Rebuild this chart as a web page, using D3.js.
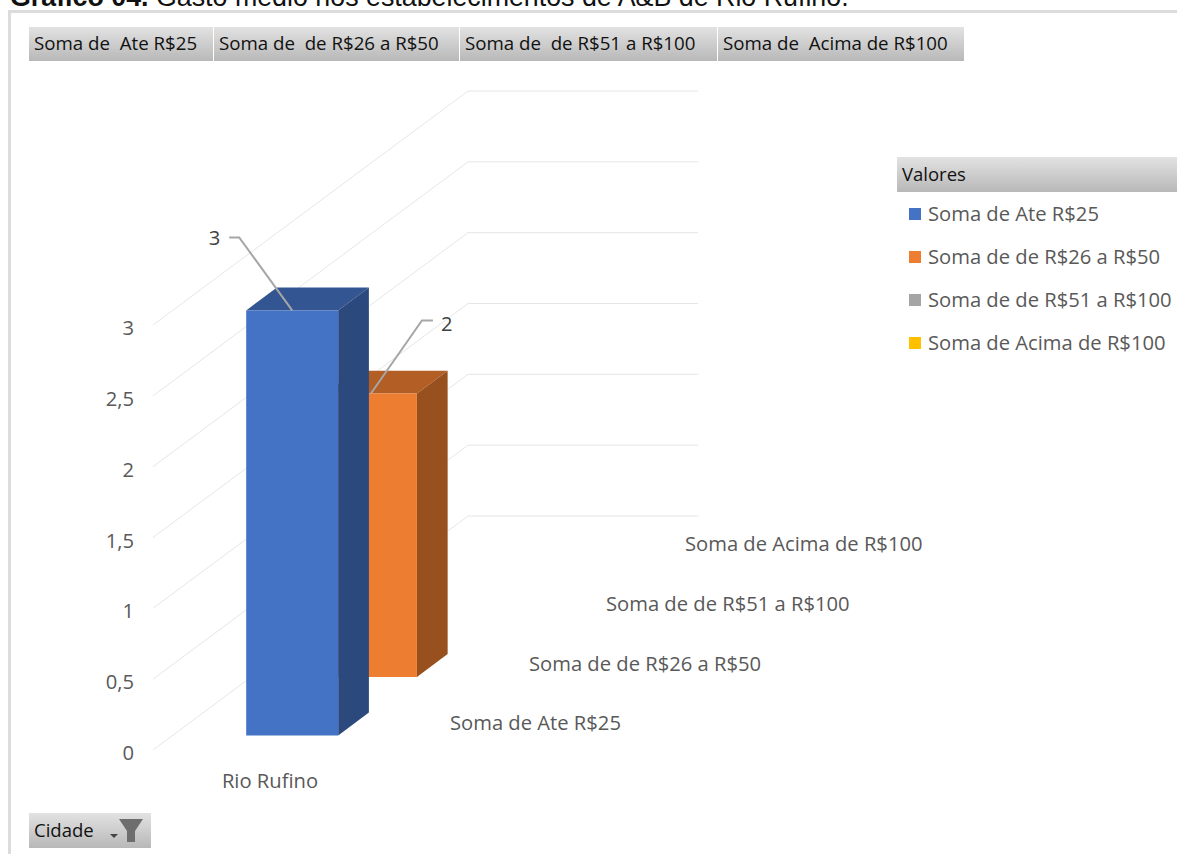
<!DOCTYPE html>
<html>
<head>
<meta charset="utf-8">
<script src="https://cdn.jsdelivr.net/npm/d3@7"></script>
<style>
  html, body { margin: 0; padding: 0; background: #fff; overflow: hidden; }
  text { font-family: "Open Sans", sans-serif; }
</style>
</head>
<body>
<svg id="chart" width="1177" height="854"></svg>
<script>
var cities = ['Rio Rufino'];
var series_names = ['Soma de Ate R$25', 'Soma de de R$26 a R$50', 'Soma de de R$51 a R$100', 'Soma de Acima de R$100'];
var series_values = [3, 2, 0, 0];
var series_colors = ['#4472c4', '#ed7d31', '#a5a5a5', '#ffc000'];
var y_ticks = [0, 0.5, 1, 1.5, 2, 2.5, 3];
var y_max_grid = 3;
var header_labels = ['Soma de  Ate R$25', 'Soma de  de R$26 a R$50', 'Soma de  de R$51 a R$100', 'Soma de  Acima de R$100'];
var header_edges = [29, 214, 460, 718, 965];
var title_bold = 'Gráfico 04.';
var title_rest = ' Gasto médio nos estabelecimentos de A&B de Rio Rufino.';

var svg = d3.select('#chart');
var defs = svg.append('defs');
var grad = defs.append('linearGradient').attr('id', 'btn').attr('x1', 0).attr('y1', 0).attr('x2', 0).attr('y2', 1);
grad.append('stop').attr('offset', '0%').attr('stop-color', '#e2e2e2');
grad.append('stop').attr('offset', '100%').attr('stop-color', '#b8b8b8');

// 3d frame: floor goes back and up from the front corner
var origin_x = 153, origin_y = 750;
var y = d3.scaleLinear().domain([0, y_max_grid]).range([0, -425]);
var depth_x = d3.scaleLinear().domain([0, series_names.length]).range([0, 315]);
var depth_y = d3.scaleLinear().domain([0, series_names.length]).range([0, -234]);
var x = d3.scaleBand().domain(cities).range([0, 230]).padding(0.4286);
var px = (c, d) => origin_x + depth_x(d) + c;
var py = (v, d) => origin_y + depth_y(d) + y(v);
var shade = function(col, k) {
	var c = d3.rgb(col);
	return d3.rgb(c.r * k, c.g * k, c.b * k);
};

// title and outer frame
var title = svg.append('text').attr('x', 10).attr('y', 6).attr('font-size', 26.8).attr('fill', '#111')
	.style('font-family', '"Liberation Sans", Arial, sans-serif');
title.append('tspan').attr('font-weight', 'bold').text(title_bold);
title.append('tspan').text(title_rest);
svg.append('path').attr('d', 'M9.5,854V11.5H1177').attr('fill', 'none').attr('stroke', '#dcdcdc').attr('stroke-width', 3);

// gridlines
y_ticks.forEach(function(t) {
	var w = x.range()[1];
	svg.append('path')
		.attr('d', d3.line()([[px(0, 0), py(t, 0)], [px(0, series_names.length), py(t, series_names.length)], [px(w, series_names.length), py(t, series_names.length)]]))
		.attr('fill', 'none').attr('stroke', '#e6e6e6').attr('stroke-width', 1);
});

// y axis labels
svg.selectAll('.ytick').data(y_ticks).enter().append('text')
	.attr('x', 134).attr('y', d => py(d, 0) + 10)
	.attr('text-anchor', 'end').attr('font-size', 20.2).attr('fill', '#595959')
	.text(d => String(d).replace('.', ','));

// bars, drawn back to front
var bar_depth = 0.39, bar_start = 0.25, nudge = 4.5;
d3.range(series_names.length - 1, -1, -1).forEach(function(i) {
	var v = series_values[i];
	if (v <= 0) return;
	cities.forEach(function(c) {
		var x0 = x(c) + nudge, x1 = x0 + x.bandwidth();
		var d0 = i + bar_start, d1 = d0 + bar_depth;
		var poly = function(pts, col) {
			svg.append('path').attr('d', d3.line()(pts) + 'Z').attr('fill', col);
		};
		poly([[px(x0, d0), py(v, d0)], [px(x1, d0), py(v, d0)], [px(x1, d1), py(v, d1)], [px(x0, d1), py(v, d1)]], shade(series_colors[i], 0.75));
		poly([[px(x1, d0), py(0, d0)], [px(x1, d1), py(0, d1)], [px(x1, d1), py(v, d1)], [px(x1, d0), py(v, d0)]], shade(series_colors[i], 0.64));
		poly([[px(x0, d0), py(0, d0)], [px(x1, d0), py(0, d0)], [px(x1, d0), py(v, d0)], [px(x0, d0), py(v, d0)]], series_colors[i]);
	});
});

// data labels with leader lines
var leader_dx = [[-53, -73], [51, -73]];
var leader_tail = [-10, 11];
var label_gap = [-9, 8];
var label_dy = [8, 10];
[0, 1].forEach(function(i) {
	var d0 = i + bar_start;
	var c = i == 0 ? x(cities[0]) + nudge + x.bandwidth() / 2 : x(cities[0]) + nudge + 46;
	var ax = px(c, d0), ay = py(series_values[i], d0);
	var kx = ax + leader_dx[i][0], ky = ay + leader_dx[i][1];
	svg.append('path').attr('d', d3.line()([[ax, ay], [kx, ky], [kx + leader_tail[i], ky]]))
		.attr('fill', 'none').attr('stroke', '#a6a6a6').attr('stroke-width', 2);
	svg.append('text').attr('x', kx + leader_tail[i] + label_gap[i]).attr('y', ky + label_dy[i])
		.attr('text-anchor', i == 0 ? 'end' : 'start').attr('font-size', 20.2).attr('fill', '#404040')
		.text(series_values[i]);
});

// series depth labels
var depth_label_x = [450, 529, 606, 685];
var depth_label_y = [730, 671, 611, 551];
svg.selectAll('.dlabel').data(series_names).enter().append('text')
	.attr('x', (d, i) => depth_label_x[i]).attr('y', (d, i) => depth_label_y[i])
	.attr('font-size', 20.2).attr('fill', '#595959').text(d => d);

// category label
svg.selectAll('.cat').data(cities).enter().append('text')
	.attr('x', 270).attr('y', 788).attr('text-anchor', 'middle')
	.attr('font-size', 20.2).attr('fill', '#595959').text(d => d);

// header buttons
header_labels.forEach(function(lab, i) {
	svg.append('rect').attr('x', header_edges[i]).attr('y', 27)
		.attr('width', header_edges[i + 1] - header_edges[i] - 1).attr('height', 34).attr('fill', 'url(#btn)');
	svg.append('text').attr('x', header_edges[i] + 5).attr('y', 50)
		.attr('font-size', 18.7).attr('fill', '#111').style('white-space', 'pre').text(lab);
});

// legend
svg.append('rect').attr('x', 897).attr('y', 157).attr('width', 280).attr('height', 35).attr('fill', 'url(#btn)');
svg.append('text').attr('x', 902).attr('y', 181).attr('font-size', 18.5).attr('fill', '#111').text('Valores');
var legend_y = d3.scalePoint().domain(series_names).range([214, 343]);
series_names.forEach(function(n, i) {
	svg.append('rect').attr('x', 909).attr('y', legend_y(n) - 6).attr('width', 12).attr('height', 12).attr('fill', series_colors[i]);
	svg.append('text').attr('x', 928).attr('y', legend_y(n) + 7).attr('font-size', 20.2).attr('fill', '#595959').text(n);
});

// filter button
svg.append('rect').attr('x', 29).attr('y', 813).attr('width', 122).attr('height', 35).attr('fill', 'url(#btn)');
svg.append('text').attr('x', 34).attr('y', 837).attr('font-size', 18.5).attr('fill', '#111').text('Cidade');
svg.append('path').attr('d', 'M110,834h8l-4,4Z').attr('fill', '#444');
svg.append('path').attr('d', 'M119,819h24l-8,12v11h-8v-11Z').attr('fill', '#6e6e6e');
</script>
</body>
</html>
